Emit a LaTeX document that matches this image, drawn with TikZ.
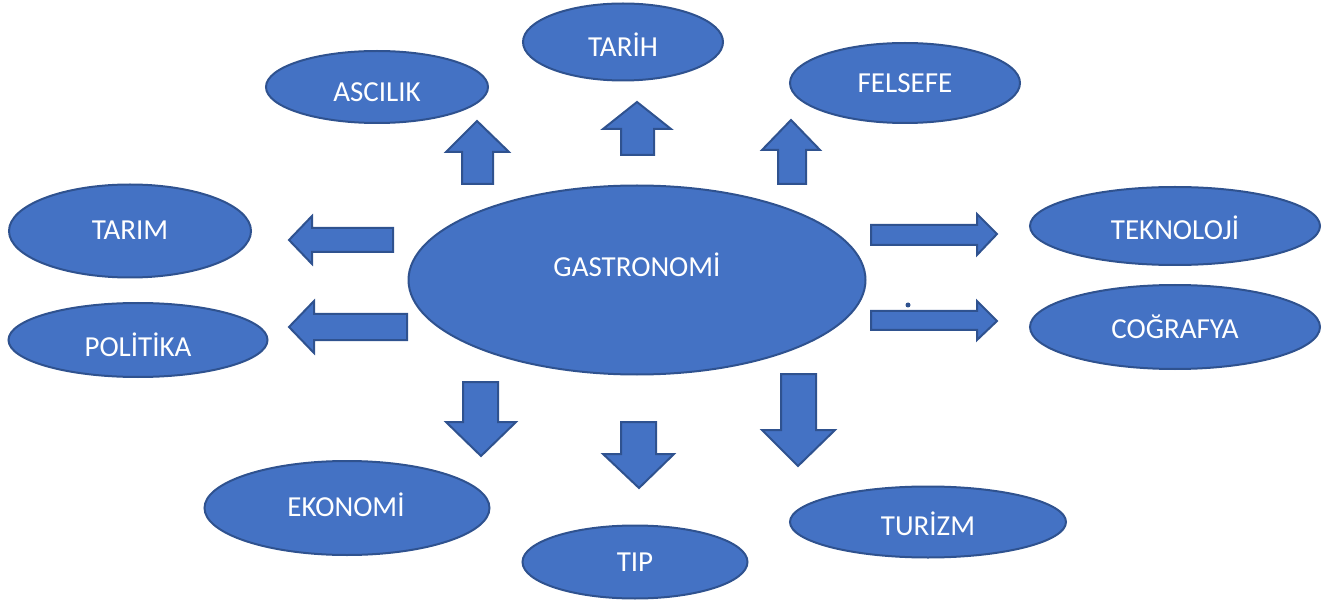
\documentclass[tikz,border=0pt]{standalone}
\usepackage{fontspec}
\setmainfont{Carlito}
\usetikzlibrary{shapes.geometric}
\definecolor{bfill}{HTML}{4472C4}
\definecolor{bline}{HTML}{2F528F}
\tikzset{
  oval/.style={ellipse, draw=bline, fill=bfill, line width=1pt, inner sep=0pt},
  txt/.style={text=white, font=\fontsize{14.5}{16}\selectfont, inner sep=0pt},
  barrow/.style={draw=bline, fill=bfill, line width=1pt, line join=miter},
}
\begin{document}
\begin{tikzpicture}[x=0.5pt, y=-0.5pt]
\useasboundingbox (0,0) rectangle (1344,604);
% ellipses (minimum width/height in pt = radius in px)
\node[oval, minimum width=100pt, minimum height=38.5pt] (tarih) at (623,42) {};
\node[oval, minimum width=111pt, minimum height=36pt] (ascilik) at (377,87) {};
\node[oval, minimum width=115pt, minimum height=40pt] (felsefe) at (905,83) {};
\node[oval, minimum width=121pt, minimum height=46.5pt] (tarim) at (130,231) {};
\node[oval, minimum width=129.5pt, minimum height=37pt] (politika) at (138,340) {};
\node[oval, minimum width=228.5pt, minimum height=94.5pt] (gastro) at (637,280) {};
\node[oval, minimum width=145pt, minimum height=39pt] (tekno) at (1175,226) {};
\node[oval, minimum width=145pt, minimum height=42pt] (cograf) at (1175,327) {};
\node[oval, minimum width=142.5pt, minimum height=47pt] (ekonomi) at (347,508) {};
\node[oval, minimum width=112.5pt, minimum height=36.5pt] (tip) at (635,562) {};
\node[oval, minimum width=138pt, minimum height=35.5pt] (turizm) at (928,522) {};
% texts
\node[txt] (tarih-t) at (623,45) {TARİH};
\node[txt] (ascilik-t) at (377,92) {ASCILIK};
\node[txt] (felsefe-t) at (905,83) {FELSEFE};
\node[txt] (tarim-t) at (130,230) {TARIM};
\node[txt] (politika-t) at (138,345) {POLİTİKA};
\node[txt] (gastro-t) at (637,265) {GASTRONOMİ};
\node[txt] (tekno-t) at (1175,228) {TEKNOLOJİ};
\node[txt] (cograf-t) at (1175,327) {COĞRAFYA};
\node[txt] (ekonomi-t) at (346,505) {EKONOMİ};
\node[txt] (tip-t) at (635,562) {TIP};
\node[txt] (turizm-t) at (928,524) {TURİZM};
% up arrows
\draw[barrow] (462,184) -- (462,152) -- (446,152) -- (477,121) -- (509,152) -- (493,152) -- (493,184) -- cycle;
\draw[barrow] (621,155) -- (621,129) -- (603,129) -- (637,102) -- (671,129) -- (654,129) -- (654,155) -- cycle;
\draw[barrow] (778,184) -- (778,150) -- (762,150) -- (791,120) -- (820,150) -- (806,150) -- (806,184) -- cycle;
% left arrows
\draw[barrow] (393,228) -- (312,228) -- (312,216) -- (289,240) -- (312,264) -- (312,252) -- (393,252) -- cycle;
\draw[barrow] (407,314) -- (314,314) -- (314,301) -- (289,327) -- (314,353) -- (314,340) -- (407,340) -- cycle;
% right arrows
\draw[barrow] (871,225) -- (977,225) -- (977,214) -- (997,234) -- (977,255) -- (977,245) -- (871,245) -- cycle;
\draw[barrow] (871,311) -- (977,311) -- (977,301) -- (997,321) -- (977,340) -- (977,330) -- (871,330) -- cycle;
% down arrows
\draw[barrow] (463,382) -- (463,422) -- (446,422) -- (481,456) -- (516,422) -- (498,422) -- (498,382) -- cycle;
\draw[barrow] (621,422) -- (621,454) -- (603,454) -- (639,488) -- (674,454) -- (656,454) -- (656,422) -- cycle;
\draw[barrow] (781,374) -- (781,430) -- (762,430) -- (798,466) -- (835,430) -- (816,430) -- (816,374) -- cycle;
% small dot
\fill[bline] (908,305) circle (2.5);
\end{tikzpicture}
\end{document}
